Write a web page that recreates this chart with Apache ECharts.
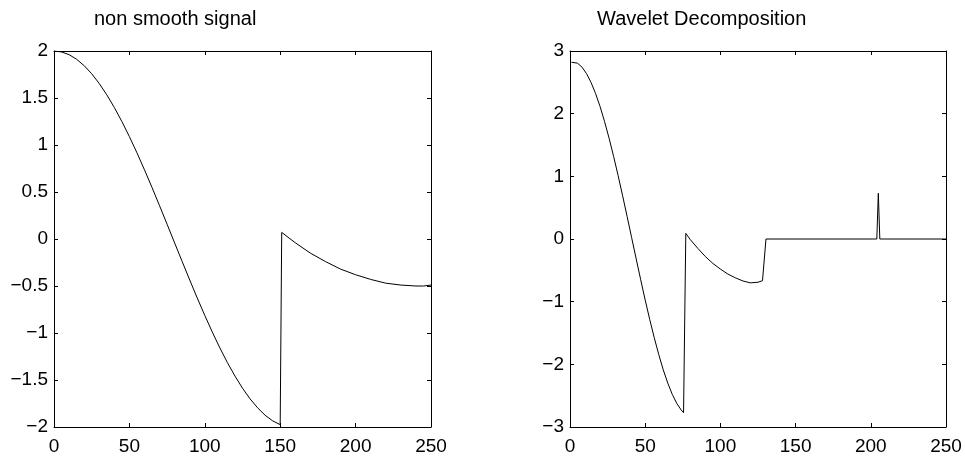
<!DOCTYPE html>
<html>
<head>
<meta charset="utf-8">
<script src="https://cdn.jsdelivr.net/npm/echarts@6/dist/echarts.min.js"></script>
<style>
html,body{margin:0;padding:0;background:#fff;}
#chart{width:965px;height:458px;}
</style>
</head>
<body>
<div id="chart"></div>
<script>
// ---- Data ----
const leftTitle = 'non smooth signal';
const rightTitle = 'Wavelet Decomposition';

const xTicks = [0, 50, 100, 150, 200, 250];
const leftYTicks = [-2, -1.5, -1, -0.5, 0, 0.5, 1, 1.5, 2];
const rightYTicks = [-3, -2, -1, 0, 1, 2, 3];

// Left panel: non smooth signal
const leftX = [0, 5, 10, 15, 20, 25, 30, 35, 40, 45, 50, 55, 60, 65, 70, 75, 80, 85, 90, 95,
  100, 105, 110, 115, 120, 125, 130, 135, 140, 145, 150,
  151, 160, 170, 180, 190, 200, 210, 220, 230, 240, 245, 250];
const leftY = [2.000, 1.990, 1.961, 1.912, 1.844, 1.758, 1.654, 1.534, 1.399, 1.250, 1.089, 0.917,
  0.736, 0.548, 0.354, 0.157, -0.042, -0.240, -0.436, -0.628,
  -0.813, -0.991, -1.159, -1.315, -1.458, -1.587, -1.700, -1.796, -1.875, -1.935, -1.975,
  0.07, -0.04, -0.15, -0.24, -0.32, -0.38, -0.43, -0.47, -0.49, -0.50, -0.50, -0.49];

// Right panel: wavelet decomposition (approximation + detail coefficients)
const rightX = [1, 2, 5, 8, 11, 14, 17, 20, 23, 26, 29, 32, 35, 38, 41, 44, 47, 50, 53, 56, 59, 62,
  65, 68, 71, 74, 75.5,
  77, 80, 85, 90, 95, 100, 105, 110, 115, 120, 125, 128, 129.2,
  130.3, 204, 205, 206, 250];
const rightY = [2.82, 2.83, 2.806, 2.742, 2.638, 2.498, 2.322, 2.113, 1.873, 1.607, 1.318, 1.011,
  0.689, 0.357, 0.020, -0.317, -0.650, -0.974, -1.283, -1.574, -1.843, -2.087,
  -2.299, -2.479, -2.624, -2.731, -2.771,
  0.09, -0.01, -0.15, -0.28, -0.39, -0.48, -0.56, -0.62, -0.67, -0.70, -0.69, -0.665, -0.65,
  0, 0, 0.73, 0, 0];

// ---- Chart ----
const FONT = 'Liberation Sans, Arial, Helvetica, sans-serif';
const fmt = v => String(v).replace('-', '\u2212');

function pairs(xs, ys) { return xs.map((x, i) => [x, ys[i]]); }

const lineCol = '#000';
function xAx(grid, pos, labels) {
  return {
    type: 'value', gridIndex: grid, position: pos, min: 0, max: 250, interval: 50,
    axisLine: { show: true, onZero: false, lineStyle: { color: lineCol, width: 1 } },
    axisTick: { show: true, inside: true, length: 4, lineStyle: { color: lineCol } },
    axisLabel: { show: labels, color: '#000', fontSize: 19, fontFamily: FONT, margin: 10, formatter: fmt },
    splitLine: { show: false }
  };
}
function yAx(grid, pos, labels, min, max, interval) {
  return {
    type: 'value', gridIndex: grid, position: pos, min: min, max: max, interval: interval,
    axisLine: { show: true, onZero: false, lineStyle: { color: lineCol, width: 1 } },
    axisTick: { show: true, inside: true, length: 4, lineStyle: { color: lineCol } },
    axisLabel: { show: labels, color: '#000', fontSize: 19, fontFamily: FONT, margin: 6, formatter: fmt },
    splitLine: { show: false }
  };
}

const chart = echarts.init(document.getElementById('chart'), null, { renderer: 'canvas' });
chart.setOption({
  animation: false,
  backgroundColor: '#fff',
  title: [
    { text: leftTitle, left: 94, top: 9, padding: 0,
      textStyle: { fontSize: 20, fontWeight: 'normal', color: '#000', fontFamily: FONT } },
    { text: rightTitle, left: 597, top: 9, padding: 0,
      textStyle: { fontSize: 20, fontWeight: 'normal', color: '#000', fontFamily: FONT } }
  ],
  grid: [
    { left: 54, top: 51, width: 377, height: 376 },
    { left: 570, top: 51, width: 376, height: 376 }
  ],
  xAxis: [
    xAx(0, 'bottom', true), xAx(0, 'top', false),
    xAx(1, 'bottom', true), xAx(1, 'top', false)
  ],
  yAxis: [
    yAx(0, 'left', true, -2, 2, 0.5), yAx(0, 'right', false, -2, 2, 0.5),
    yAx(1, 'left', true, -3, 3, 1), yAx(1, 'right', false, -3, 3, 1)
  ],
  series: [
    { type: 'line', xAxisIndex: 0, yAxisIndex: 0, data: pairs(leftX, leftY),
      showSymbol: false, symbol: 'none', lineStyle: { color: '#000', width: 1 } },
    { type: 'line', xAxisIndex: 2, yAxisIndex: 2, data: pairs(rightX, rightY),
      showSymbol: false, symbol: 'none', lineStyle: { color: '#000', width: 1 } }
  ]
});
</script>
</body>
</html>
